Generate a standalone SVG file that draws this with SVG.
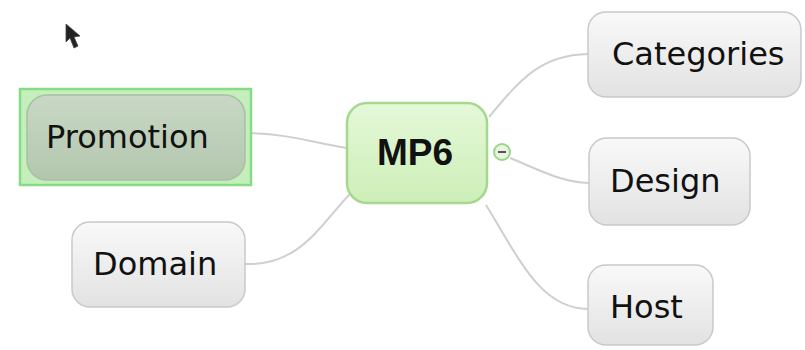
<svg xmlns="http://www.w3.org/2000/svg" width="805" height="350" viewBox="0 0 805 350">
<style>
.conn{fill:none;stroke:#cfcfcf;stroke-width:2}
.gnode{fill:url(#gg);stroke:#c9c9c9;stroke-width:1.5}
.lbl{font-family:"DejaVu Sans",Verdana,sans-serif;font-size:32px;fill:#111}
</style>
<defs>
<linearGradient id="gg" x1="0" y1="0" x2="0" y2="1">
<stop offset="0" stop-color="#f9f9f9"/>
<stop offset="1" stop-color="#e2e2e2"/>
</linearGradient>
<linearGradient id="pg" x1="0" y1="0" x2="0" y2="1">
<stop offset="0" stop-color="#c9d8c5"/>
<stop offset="1" stop-color="#b2c6ad"/>
</linearGradient>
<linearGradient id="mg" x1="0" y1="0" x2="0" y2="1">
<stop offset="0" stop-color="#e4f8d8"/>
<stop offset="1" stop-color="#cdefb8"/>
</linearGradient>
</defs>
<rect width="805" height="350" fill="#ffffff"/>
<g id="connectors">
<path class="conn" d="M246,133 C290,134 310,142 347,148"/>
<path class="conn" d="M245,264 C300,266 320,225 350,194"/>
<path class="conn" d="M489,117 C520,80 540,55 588,54"/>
<path class="conn" d="M510,158 C540,170 560,182 589,183"/>
<path class="conn" d="M486,205 C520,260 540,308 588,309"/>
</g>
<g id="cursor">
<path d="M66,24 L66,42 L70,38 L74,48 L78,46 L74,37 L80,36 Z" fill="#222" stroke="#444" stroke-width="0.8"/>
</g>
<g id="promotion">
<rect x="20" y="89" width="231" height="96" fill="#c4efbc" stroke="#86db86" stroke-width="2.5"/>
<rect x="27" y="95" width="218" height="85" rx="20" fill="url(#pg)" stroke="#a9bfa4" stroke-width="1.5"/>
<text class="lbl" x="46" y="148">Promotion</text>
</g>
<g id="mp6">
<rect x="347" y="103" width="140" height="100" rx="20" fill="url(#mg)" stroke="#a6d78f" stroke-width="2.5"/>
<text x="415" y="165" text-anchor="middle" font-family="'Liberation Sans',Arial,sans-serif" font-weight="bold" font-size="37" fill="#111">MP6</text>
</g>
<g id="collapse">
<circle cx="502" cy="152" r="8" fill="#e8f5e0" stroke="#9ed48a" stroke-width="2"/>
<line x1="498" y1="152" x2="506" y2="152" stroke="#555" stroke-width="2"/>
</g>
<g id="categories">
<rect class="gnode" x="588" y="12" width="213" height="85" rx="18"/>
<text class="lbl" x="612" y="65">Categories</text>
</g>
<g id="design">
<rect class="gnode" x="589" y="138" width="161" height="87" rx="18"/>
<text class="lbl" x="610" y="192">Design</text>
</g>
<g id="host">
<rect class="gnode" x="588" y="265" width="125" height="80" rx="18"/>
<text class="lbl" x="610" y="318">Host</text>
</g>
<g id="domain">
<rect class="gnode" x="72" y="222" width="173" height="85" rx="18"/>
<text class="lbl" x="93" y="275">Domain</text>
</g>
</svg>
